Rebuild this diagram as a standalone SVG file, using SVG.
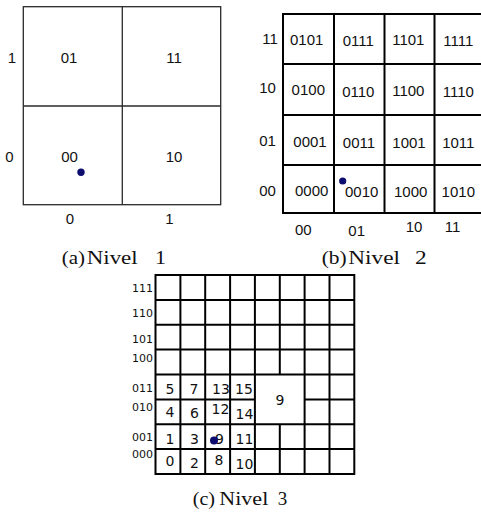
<svg xmlns="http://www.w3.org/2000/svg" width="481" height="513" viewBox="0 0 481 513">
<style>
.thin{fill:none;stroke:#2a2a2a;stroke-width:1.3}
.thick{fill:none;stroke:#000;stroke-width:2}
.sa{font-family:"Liberation Sans",Arial,sans-serif;font-size:15px;fill:#111;text-anchor:middle}
.sc{font-family:"DejaVu Sans",sans-serif;font-size:14px;fill:#111;text-anchor:middle}
.rl{font-family:"DejaVu Sans",sans-serif;font-size:11px;fill:#111;text-anchor:end}
.cap{font-family:"Liberation Serif","Times New Roman",serif;font-size:19px;fill:#111}
.dot{fill:#0d0d70}
</style>
<rect width="481" height="513" fill="#fff"/>

<g id="panel-a">
  <g id="grid-a">
    <rect class="thin" x="23.3" y="6.7" width="197.4" height="198"/>
    <line class="thin" x1="122.3" y1="6.7" x2="122.3" y2="204.7"/>
    <line class="thin" x1="23.3" y1="106" x2="220.7" y2="106"/>
  </g>
  <text class="sa" x="12" y="63">1</text>
  <text class="sa" x="9.5" y="162">0</text>
  <text class="sa" x="69" y="63">01</text>
  <text class="sa" x="174" y="63">11</text>
  <text class="sa" x="69.5" y="162">00</text>
  <text class="sa" x="174" y="162">10</text>
  <text class="sa" x="70" y="223.5">0</text>
  <text class="sa" x="169.5" y="223.5">1</text>
  <circle class="dot" cx="81" cy="172.3" r="3.7"/>
  <text class="cap" y="264"><tspan x="61.7" textLength="23.3" lengthAdjust="spacingAndGlyphs">(a)</tspan><tspan x="86.7" textLength="51" lengthAdjust="spacingAndGlyphs">Nivel</tspan><tspan x="155" textLength="11" lengthAdjust="spacingAndGlyphs">1</tspan></text>
</g>

<g id="panel-b">
  <g id="grid-b">
    <rect class="thick" x="283" y="14" width="210" height="199"/>
    <line class="thick" x1="334" y1="14" x2="334" y2="213"/>
    <line class="thick" x1="384.5" y1="14" x2="384.5" y2="213"/>
    <line class="thick" x1="434.5" y1="14" x2="434.5" y2="213"/>
    <line class="thick" x1="283" y1="64" x2="481" y2="64"/>
    <line class="thick" x1="283" y1="115" x2="481" y2="115"/>
    <line class="thick" x1="283" y1="165" x2="481" y2="165"/>
  </g>
  <text class="sa" x="270" y="44">11</text>
  <text class="sa" x="267.5" y="93">10</text>
  <text class="sa" x="267.5" y="146">01</text>
  <text class="sa" x="267.5" y="196">00</text>
  <text class="sa" x="306.7" y="44.5">0101</text>
  <text class="sa" x="358.3" y="46">0111</text>
  <text class="sa" x="408.3" y="45">1101</text>
  <text class="sa" x="458.3" y="46">1111</text>
  <text class="sa" x="308.3" y="95">0100</text>
  <text class="sa" x="358.3" y="96.5">0110</text>
  <text class="sa" x="408.3" y="96">1100</text>
  <text class="sa" x="458.3" y="97">1110</text>
  <text class="sa" x="310" y="146.5">0001</text>
  <text class="sa" x="359" y="147.5">0011</text>
  <text class="sa" x="409" y="147.5">1001</text>
  <text class="sa" x="458.3" y="147.5">1011</text>
  <text class="sa" x="311.7" y="196">0000</text>
  <text class="sa" x="361.7" y="197">0010</text>
  <text class="sa" x="410.7" y="197">1000</text>
  <text class="sa" x="458.3" y="197">1010</text>
  <text class="sa" x="303.3" y="235">00</text>
  <text class="sa" x="356.7" y="235.5">01</text>
  <text class="sa" x="414" y="232">10</text>
  <text class="sa" x="452.5" y="232">11</text>
  <circle class="dot" cx="342.7" cy="181" r="3.6"/>
  <text class="cap" y="264"><tspan x="321.7" textLength="25" lengthAdjust="spacingAndGlyphs">(b)</tspan><tspan x="348.3" textLength="51.7" lengthAdjust="spacingAndGlyphs">Nivel</tspan><tspan x="415" textLength="11.7" lengthAdjust="spacingAndGlyphs">2</tspan></text>
</g>

<g id="panel-c">
  <g id="grid-c">
    <rect class="thick" x="155.5" y="275" width="198.8" height="199"/>
    <line class="thick" x1="180.4" y1="275" x2="180.4" y2="474"/>
    <line class="thick" x1="205.2" y1="275" x2="205.2" y2="474"/>
    <line class="thick" x1="230.1" y1="275" x2="230.1" y2="474"/>
    <line class="thick" x1="254.9" y1="275" x2="254.9" y2="474"/>
    <line class="thick" x1="279.8" y1="275" x2="279.8" y2="374.5"/>
    <line class="thick" x1="279.8" y1="424.3" x2="279.8" y2="474"/>
    <line class="thick" x1="304.6" y1="275" x2="304.6" y2="474"/>
    <line class="thick" x1="329.5" y1="275" x2="329.5" y2="474"/>
    <line class="thick" x1="155.5" y1="300" x2="354.3" y2="300"/>
    <line class="thick" x1="155.5" y1="324.8" x2="354.3" y2="324.8"/>
    <line class="thick" x1="155.5" y1="349.6" x2="354.3" y2="349.6"/>
    <line class="thick" x1="155.5" y1="374.5" x2="354.3" y2="374.5"/>
    <line class="thick" x1="155.5" y1="399.4" x2="254.9" y2="399.4"/>
    <line class="thick" x1="304.6" y1="399.4" x2="354.3" y2="399.4"/>
    <line class="thick" x1="155.5" y1="424.3" x2="354.3" y2="424.3"/>
    <line class="thick" x1="155.5" y1="449.1" x2="354.3" y2="449.1"/>
  </g>
  <text class="rl" x="153" y="292">111</text>
  <text class="rl" x="153" y="317">110</text>
  <text class="rl" x="153" y="343">101</text>
  <text class="rl" x="153" y="362">100</text>
  <text class="rl" x="153" y="392">011</text>
  <text class="rl" x="153" y="411">010</text>
  <text class="rl" x="153" y="441">001</text>
  <text class="rl" x="153" y="458">000</text>
  <text class="sc" x="170" y="393.5">5</text>
  <text class="sc" x="194" y="393.5">7</text>
  <text class="sc" x="221" y="393.5">13</text>
  <text class="sc" x="244" y="393.5">15</text>
  <text class="sc" x="170" y="417">4</text>
  <text class="sc" x="194.5" y="418">6</text>
  <text class="sc" x="220.5" y="414">12</text>
  <text class="sc" x="244.5" y="418.5">14</text>
  <text class="sc" x="170" y="443.5">1</text>
  <text class="sc" x="194.5" y="443.5">3</text>
  <text class="sc" x="219.5" y="444">9</text>
  <text class="sc" x="244.5" y="444">11</text>
  <text class="sc" x="170" y="466">0</text>
  <text class="sc" x="194.5" y="468">2</text>
  <text class="sc" x="219" y="464.5">8</text>
  <text class="sc" x="244.5" y="469">10</text>
  <text class="sc" x="280" y="405">9</text>
  <circle class="dot" cx="214" cy="440.5" r="4"/>
  <text class="cap" y="505"><tspan x="192.7" textLength="22.3" lengthAdjust="spacingAndGlyphs">(c)</tspan><tspan x="219.3" textLength="49" lengthAdjust="spacingAndGlyphs">Nivel</tspan><tspan x="277.7" textLength="9.5" lengthAdjust="spacingAndGlyphs">3</tspan></text>
</g>
</svg>
